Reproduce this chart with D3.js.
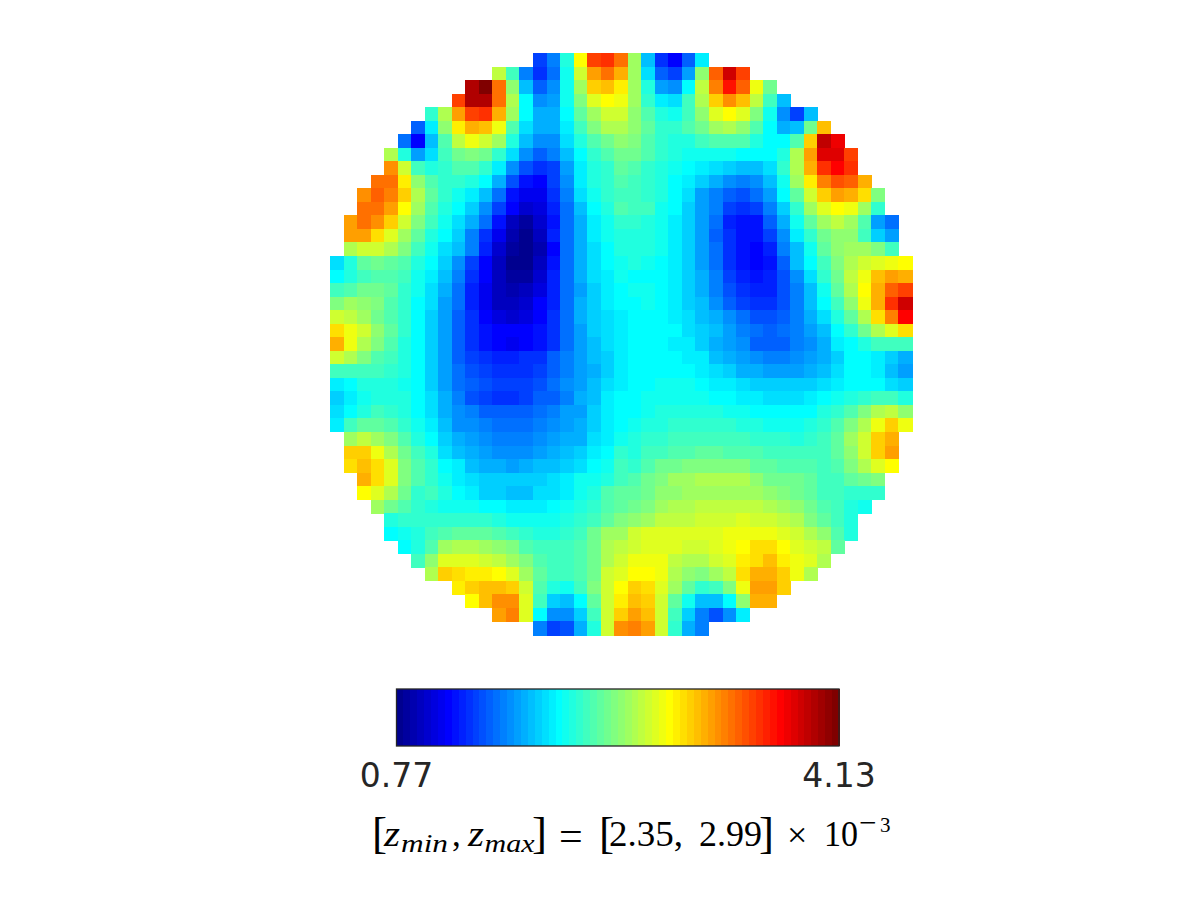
<!DOCTYPE html>
<html><head><meta charset="utf-8">
<style>html,body{margin:0;padding:0;background:#fff}svg{display:block}</style>
<script src="https://cdn.jsdelivr.net/npm/d3@7/dist/d3.min.js"></script>
</head><body><svg id="c" width="1200" height="900"></svg>
<script>
// Colour levels (0-63 on the 64-step jet map) read per cell; each row is centred in the 43-cell grid.
const levelRows = [
[11,15,25,39,51,52,48,33,19,10,7,13,22],
[35,27,15,10,14,24,36,45,48,44,33,21,13,11,17,32,49,58,51],
[60,63,48,32,19,13,16,24,33,42,43,40,33,25,17,16,23,35,47,54,49,38,30],
[51,60,60,48,34,23,16,17,24,31,37,39,38,33,26,22,21,27,34,42,46,43,35,27,19],
[26,34,45,51,52,44,33,23,18,18,23,29,33,36,36,32,28,25,24,27,32,37,39,37,31,24,16,11,19],
[13,22,32,40,44,43,38,28,21,18,18,22,27,31,34,34,32,29,26,26,28,30,33,34,32,28,23,18,19,30,43],
[14,7,19,28,35,38,36,33,25,19,16,16,21,25,28,30,32,31,28,26,25,25,27,28,28,28,25,23,23,28,42,59,56],
[34,25,17,21,27,30,31,30,26,21,16,13,15,19,23,26,28,30,30,28,26,25,24,24,24,24,23,23,23,25,34,45,57,57,51],
[46,36,27,25,26,28,28,26,22,16,12,10,11,17,22,25,26,29,28,26,25,24,23,22,21,20,19,19,21,26,34,44,52,55,52],
[48,48,40,32,28,26,26,25,23,18,12,8,7,11,16,22,25,26,28,27,26,25,23,22,20,18,16,15,16,19,24,33,40,47,50,49,44],
[46,49,47,42,34,29,26,24,22,19,14,8,6,6,10,15,21,24,26,27,27,26,25,23,21,17,15,13,12,14,17,23,29,36,42,45,44,41,31],
[48,48,45,39,33,28,25,23,20,16,11,7,4,5,9,14,19,23,25,28,27,27,24,23,20,17,15,11,10,11,15,20,26,33,37,39,38,33,26],
[45,48,46,42,36,31,27,24,21,18,14,8,3,1,4,8,14,18,22,24,26,26,25,24,22,20,17,14,9,8,8,13,18,24,29,33,35,33,28,17,14],
[45,45,41,37,33,29,25,23,20,15,10,6,2,0,3,9,14,18,22,24,25,25,25,24,22,20,17,13,10,8,8,11,16,22,26,30,32,32,27,20,17],
[34,36,36,34,31,27,24,21,19,15,9,4,1,0,2,7,14,18,21,23,25,25,25,24,22,20,17,14,10,8,7,9,15,19,24,29,32,33,33,31,27],
[21,25,29,30,29,28,25,23,20,16,11,7,3,0,0,3,8,14,18,21,23,24,25,24,23,22,20,17,14,10,8,7,8,13,19,23,27,31,34,36,37,38,39],
[23,25,27,28,28,27,24,22,19,15,10,7,3,1,1,4,9,14,18,21,22,24,23,23,23,22,20,18,15,11,9,8,9,12,16,21,26,30,35,38,43,45,44],
[27,28,30,30,29,26,24,21,18,14,9,6,3,2,3,5,9,14,17,20,22,23,24,24,23,22,20,18,15,12,10,9,9,12,15,19,24,29,34,39,44,49,51],
[31,33,32,31,28,26,23,21,17,14,9,6,3,3,4,7,9,14,18,20,22,23,23,24,23,22,20,19,16,13,11,10,10,12,15,19,23,27,32,38,44,52,58],
[36,35,33,30,28,26,23,20,17,13,10,7,5,4,5,7,10,14,18,20,21,22,23,23,23,22,21,19,18,16,14,12,12,13,15,18,21,25,29,34,41,47,55],
[41,38,36,32,29,26,23,20,17,13,10,8,7,7,7,8,10,14,17,20,21,22,23,23,23,23,21,20,19,17,15,14,13,14,15,17,19,23,26,30,34,37,41],
[44,38,34,31,28,25,23,20,17,13,10,8,7,6,7,8,10,14,17,19,21,22,23,23,23,22,22,20,18,17,16,13,13,13,15,16,18,22,23,25,27,27,27],
[36,34,31,28,27,25,23,20,17,13,11,10,9,9,10,10,13,15,17,19,20,22,23,23,23,23,22,22,19,18,17,16,15,15,16,17,18,20,23,23,22,20,18],
[27,27,27,27,26,25,23,20,17,14,12,11,10,10,10,11,13,15,17,18,20,22,23,23,23,23,23,22,21,20,18,18,17,17,17,18,19,21,23,23,22,19,17],
[22,23,25,25,25,24,23,20,17,14,13,12,11,11,11,12,14,16,17,19,21,22,23,23,24,24,24,23,22,22,21,20,20,20,20,20,21,22,23,23,23,21,20],
[20,22,24,25,25,25,23,21,18,15,12,11,10,10,11,13,13,15,18,19,22,23,23,24,24,24,24,24,23,23,22,22,21,21,21,22,23,24,25,26,27,27,25],
[21,23,25,27,26,25,23,21,18,16,15,13,13,13,13,14,15,17,17,20,22,23,23,24,25,25,25,25,25,24,24,23,23,23,23,23,25,26,28,31,34,35,32],
[22,27,29,29,28,26,24,22,19,16,16,15,14,14,14,15,16,17,18,20,22,23,24,25,25,26,26,26,26,26,25,25,24,24,24,25,26,28,31,34,38,42,38],
[33,35,33,31,28,25,23,20,18,17,16,15,15,15,16,17,18,18,21,22,24,25,26,26,27,27,27,27,27,27,26,26,26,25,26,27,29,33,36,42,44],
[42,42,38,34,30,27,25,21,19,18,17,16,16,16,17,18,19,20,22,23,26,25,27,27,28,28,29,29,28,28,28,27,27,27,27,27,29,32,36,42,45],
[41,43,41,37,31,28,26,23,22,19,18,18,17,18,19,19,20,21,23,24,27,26,28,30,30,31,31,31,31,31,29,29,28,28,28,27,28,31,34,37,39],
[44,41,37,31,28,26,24,22,21,20,20,20,20,20,21,22,24,24,25,27,28,30,31,33,33,34,34,34,34,32,30,30,30,29,27,27,29,30,31],
[39,37,34,30,26,27,25,23,22,20,20,19,19,21,21,22,24,25,28,29,29,30,32,32,33,33,33,33,33,33,32,31,30,29,27,27,26,26,26],
[33,30,28,26,25,24,24,24,23,23,22,22,22,23,24,25,26,28,29,30,31,33,34,34,35,35,35,35,35,34,33,32,30,28,27,25,24],
[25,26,26,26,26,26,26,26,25,24,24,24,24,25,26,27,29,31,32,33,35,35,35,36,36,36,37,36,36,35,34,31,29,27,25],
[23,24,25,27,28,29,29,29,28,27,26,25,25,26,27,30,33,33,36,37,37,37,37,37,37,38,38,38,38,37,36,34,32,28,25],
[23,25,28,33,34,34,33,32,31,28,27,27,27,28,30,34,35,36,37,37,37,36,36,37,38,39,41,41,39,37,36,35,29],
[27,32,37,37,37,36,35,33,31,28,27,27,28,30,34,36,38,38,38,35,34,34,36,37,40,41,43,40,38,37,34],
[34,42,41,40,40,39,37,33,29,27,27,28,30,36,37,39,39,38,34,32,31,33,35,41,44,44,42,38,34],
[40,42,43,43,42,36,28,25,24,27,31,36,39,42,41,37,33,29,26,27,31,38,45,45,42],
[39,43,46,46,37,27,20,19,23,29,36,40,43,42,36,29,24,19,19,23,32,44,44],
[45,47,37,23,16,16,20,27,36,42,45,43,36,27,20,15,12,16,22],
[15,11,12,18,25,36,46,47,45,36,26,18,15]
];
const gridSize = 43;
const barLevels = d3.range(64);
const tickLabels = ["0.77", "4.13"];
const jetStops = ["#00008f","#0000ff","#00ffff","#ffff00","#ff0000","#800000"];
const jetAnchors = [0,7,23,39,55,63];

const jet = d3.scaleLinear().domain(jetAnchors).range(jetStops).interpolate(d3.interpolateRgb);
const svg = d3.select("#c");
const x = d3.scaleBand().domain(d3.range(gridSize)).range([330,912]);
const y = d3.scaleBand().domain(d3.range(gridSize)).range([53,635]);

const cells = levelRows.flatMap((row,r)=>{
  const start = (gridSize-row.length)/2;
  return row.map((v,i)=>({r,c:start+i,v}));
});
svg.append("g").attr("shape-rendering","crispEdges").selectAll("rect").data(cells).join("rect")
  .attr("x",d=>x(d.c)).attr("y",d=>y(d.r))
  .attr("width",x.bandwidth()+0.5).attr("height",y.bandwidth()+0.5)
  .attr("fill",d=>jet(d.v));

// colour bar
const bx = d3.scaleBand().domain(barLevels).range([396.5,839]);
svg.append("g").attr("shape-rendering","crispEdges").selectAll("rect").data(barLevels).join("rect")
  .attr("x",d=>bx(d)).attr("y",689).attr("width",bx.bandwidth()+0.5).attr("height",57)
  .attr("fill",d=>jet(d));
svg.append("rect").attr("x",396.5).attr("y",689).attr("width",442.5).attr("height",57)
  .attr("fill","none").attr("stroke","#262626").attr("stroke-width",1.3);
svg.selectAll("text.t").data(tickLabels).join("text").attr("class","t")
  .attr("x",(d,i)=>i?839:396.5).attr("y",787).attr("text-anchor","middle")
  .attr("font-family","DejaVu Sans").attr("font-size",33).attr("fill","#262626").text(d=>d);

// formula: [text, x, baseline, size, style, width]
const pieces=[
 ["[",372,848,45,"normal"],["z",384,846,36,"italic",16],["min",401,852,25,"italic",47],[",",452,846,35,"normal"],
 ["z",468,846,36,"italic",16],["max",484.5,852,25,"italic",50],["]",532,848,45,"normal"],["=",559,850,42,"normal"],
 ["[",599,848,45,"normal"],["2.35,",609,846,35,"normal",74],["2.99",699,846,35,"normal",63],["]",759,848,45,"normal"],
 ["×",787,847,36,"normal"],["10",824,846,35,"normal",34],["−",859,833,31,"normal"],["3",880,832,21,"normal"]
];
svg.selectAll("text.f").data(pieces).join("text").attr("class","f")
  .attr("x",d=>d[1]).attr("y",d=>d[2]).attr("font-size",d=>d[3]).attr("font-style",d=>d[4])
  .attr("font-family","Liberation Serif").attr("fill","#000")
  .each(function(d){ if(d[5]) d3.select(this).attr("textLength",d[5]).attr("lengthAdjust","spacingAndGlyphs"); })
  .text(d=>d[0]);
</script></body></html>
